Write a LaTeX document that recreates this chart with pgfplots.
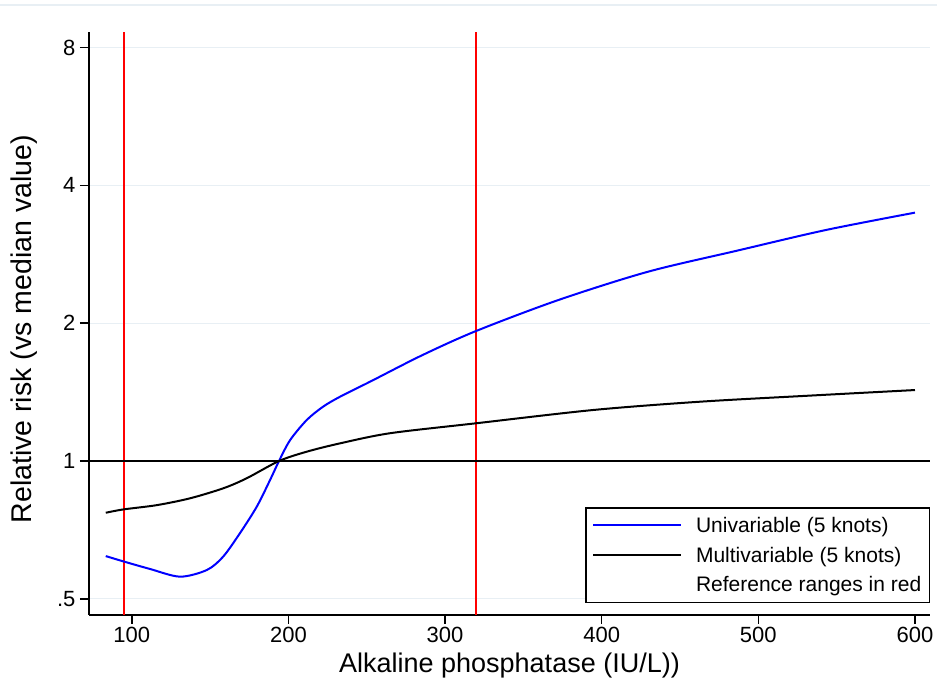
\documentclass[border=0pt]{standalone}
\usepackage{pgfplots}
\pgfplotsset{compat=1.18}
\usepackage{fontspec}
\setmainfont{Liberation Sans}
\definecolor{gridc}{RGB}{232,239,244}
\begin{document}
\begin{tikzpicture}[x=1pt,y=1pt]
\path[use as bounding box] (0,0) rectangle (937,687);
\draw[gridc, line width=1.2pt] (0,682) -- (937,682);
\begin{axis}[
  at={(89pt,72pt)}, anchor=south west,
  scale only axis, width=841pt, height=583pt,
  xmin=72.7, xmax=609.6, ymin=0.461, ymax=8.65,
  ymode=log, log basis y=2,
  axis x line*=bottom, axis y line*=left,
  axis line style={line width=1.6pt, -},
  tick align=outside, major tick length=9pt,
  tick style={line width=1.6pt, black},
  xtick={100,200,300,400,500,600},
  ytick={0.5,1,2,4,8}, yticklabels={.5,1,2,4,8},
  /pgf/number format/assume math mode=true,
  ticklabel style={font=\fontsize{22}{22}\selectfont},
  xticklabel style={yshift=0pt},
  yticklabel style={xshift=-1pt},
  ymajorgrids, grid style={gridc, line width=1.2pt},
  xlabel={Alkaline phosphatase (IU/L))},
  ylabel={Relative risk (vs median value)},
  xlabel style={font=\fontsize{27}{27}\selectfont, at={(axis description cs:0.5,-0.087)}, anchor=center},
  ylabel style={font=\fontsize{28.5}{28.5}\selectfont, at={(axis description cs:-0.077,0.49)}, anchor=center, rotate=0},
  legend cell align=left,
  legend style={at={(1,0.0206)}, anchor=south east, draw=black, line width=1.4pt,
    font=\fontsize{21}{21}\selectfont, inner xsep=6pt, inner ysep=7pt,
    row sep=9pt},
  legend image code/.code={\path (0pt,0pt) -- (88pt,0pt); \draw[#1, line width=1.8pt] (0pt,0pt) -- (88pt,0pt);},
]
\addplot[red, line width=2pt, forget plot] coordinates {(95,0.461) (95,8.65)};
\addplot[red, line width=2pt, forget plot] coordinates {(320,0.461) (320,8.65)};
\addplot[black, line width=1.8pt, forget plot] coordinates {(72.7,1) (609.6,1)};
\addplot[blue, line width=2pt, smooth] coordinates {
(83.4,0.620) (95.1,0.603) (111.7,0.581) (130.8,0.559) (147.9,0.578)
(158.3,0.618) (169.1,0.696) (179.8,0.795) (188.3,0.909) (194.0,1.0)
(201.1,1.111) (211.7,1.229) (222.1,1.314) (233.0,1.382) (252.1,1.490)
(285,1.700) (319.8,1.923) (372.5,2.248) (429.6,2.591) (486.4,2.880)
(543.2,3.196) (600,3.487)};
\addlegendentry{\hspace*{12pt}Univariable (5 knots)}
\addplot[black, line width=2pt, smooth] coordinates {
(83.4,0.771) (94.6,0.784) (116.0,0.801) (137.2,0.829) (158.5,0.872)
(173.4,0.917) (194.0,1.0) (211.7,1.048) (233.0,1.093) (264.9,1.150)
(319.8,1.209) (395.1,1.293) (463.4,1.348) (532.1,1.389) (600,1.429)};
\addlegendentry{\hspace*{12pt}Multivariable (5 knots)}
\addlegendimage{empty legend}
\addlegendentry{\hspace*{12pt}Reference ranges in red}
\end{axis}
\end{tikzpicture}
\end{document}
